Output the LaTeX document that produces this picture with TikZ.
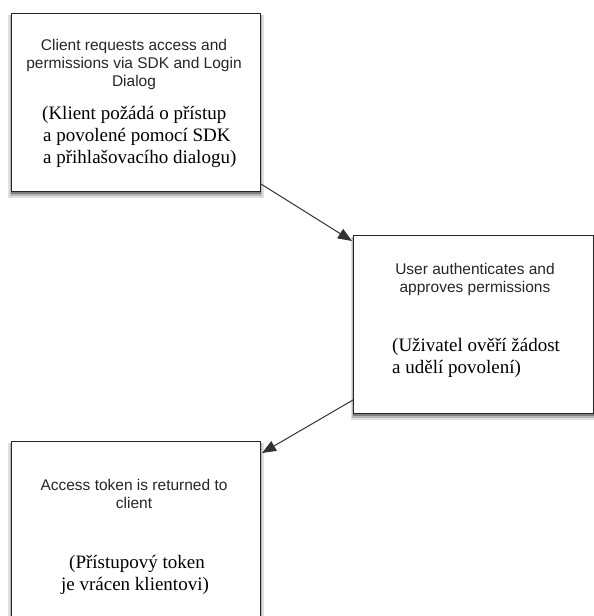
\documentclass[tikz,border=0pt]{standalone}
\usepackage{fontspec}
\setmainfont{Liberation Serif}
\newfontfamily\sansf{Liberation Sans}
\usetikzlibrary{arrows.meta,shadows,calc}
\tikzset{
  boxstyle/.style={draw=black!85,line width=1pt,fill=white,
    drop shadow={shadow xshift=0pt,shadow yshift=-4pt,shadow scale=1.025,opacity=0.12,fill=black},
    drop shadow={shadow xshift=0pt,shadow yshift=-3pt,shadow scale=1.015,opacity=0.18,fill=black},
    drop shadow={shadow xshift=0pt,shadow yshift=-2pt,shadow scale=1.005,opacity=0.3,fill=black}},
  entext/.style={font=\sansf\fontsize{15.5}{18}\selectfont,inner sep=0pt,anchor=base,text=black!85},
  cztext/.style={font=\fontsize{19}{22}\selectfont,inner sep=0pt,anchor=base},
  czleft/.style={cztext,anchor=base west},
  conn/.style={draw=black!80,line width=1pt,-{Triangle[length=14pt,width=11pt]}}
}
\begin{document}
\begin{tikzpicture}[x=1pt,y=-1pt]
\useasboundingbox (0,0) rectangle (594,616);
% boxes
\node[boxstyle,inner sep=0pt,anchor=north west,minimum width=249pt,minimum height=178pt] (b1) at (11,13) {};
\node[boxstyle,inner sep=0pt,anchor=north west,minimum width=240pt,minimum height=178pt] (b2) at (353,235) {};
\node[boxstyle,inner sep=0pt,anchor=north west,minimum width=249pt,minimum height=210pt] (b3) at (11,441) {};
% texts box 1
\node[entext] (t1a) at (134,50.7) {Client requests access and};
\node[entext] (t1b) at (134,68.3) {permissions via SDK and Login};
\node[entext] (t1c) at (134,86) {Dialog};
\node[czleft] (c1a) at (42,119.5) {(Klient požádá o přístup};
\node[czleft] (c1b) at (43,141) {a povolené pomocí SDK};
\node[czleft] (c1c) at (43,163) {a přihlašovacího dialogu)};
% texts box 2
\node[entext] (t2a) at (475,274.5) {User authenticates and};
\node[entext] (t2b) at (475,292) {approves permissions};
\node[czleft] (c2a) at (392,351.7) {(Uživatel ověří žádost};
\node[czleft] (c2b) at (392,373) {a udělí povolení)};
% texts box 3
\node[entext] (t3a) at (134,490) {Access token is returned to};
\node[entext] (t3b) at (134,508) {client};
\node[cztext] (c3a) at (137,568) {(Přístupový token};
\node[cztext] (c3b) at (135,590) {je vrácen klientovi)};
% connectors
\draw[conn] ($(b1.south east)+(0,-8)$) -- ($(b2.north west)+(-1,6)$);
\draw[conn] ($(b2.north west)+(0,165)$) -- ($(b3.north west)+(251,12)$);
\end{tikzpicture}
\end{document}
